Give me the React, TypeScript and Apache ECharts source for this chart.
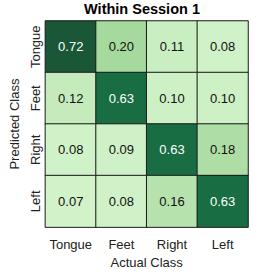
import React, { useEffect, useRef } from "react";
import * as echarts from "echarts";

const actualClasses = ["Tongue", "Feet", "Right", "Left"];
const predictedClasses = ["Tongue", "Feet", "Right", "Left"];
const matrix: number[][] = [
  [0.72, 0.2, 0.11, 0.08],
  [0.12, 0.63, 0.1, 0.1],
  [0.08, 0.09, 0.63, 0.18],
  [0.07, 0.08, 0.16, 0.63],
];
const titleText = "Within Session 1";
const colorStops = [
  "#dcf8d5", "#cdf0c5", "#a6d99d", "#80c47a", "#5aa864",
  "#3a8c52", "#197546", "#1a5a38", "#1a4a30",
];

export default function App() {
  const ref = useRef<HTMLDivElement>(null);
  useEffect(() => {
    if (!ref.current) return;
    const chart = echarts.init(ref.current, undefined, { renderer: "svg" });
    const data: any[] = [];
    matrix.forEach((row, r) => {
      row.forEach((v, c) => {
        data.push({
          value: [c, r, v],
          label: { color: v > 0.4 ? "#ffffff" : "#111111" },
        });
      });
    });
    const font = "'Liberation Sans', Arial, sans-serif";
    chart.setOption({
      animation: false,
      backgroundColor: "#ffffff",
      title: {
        text: titleText,
        left: 142,
        textAlign: "center",
        top: 1,
        padding: 0,
        textStyle: { fontFamily: font, fontSize: 14.5, fontWeight: "bold", color: "#000" },
      },
      grid: { left: 37, right: 26, top: 21, bottom: 36 },
      xAxis: {
        type: "category",
        data: actualClasses,
        name: "Actual Class",
        nameLocation: "middle",
        nameGap: 28,
        nameTextStyle: { fontFamily: font, fontSize: 13, color: "#222" },
        axisLine: { show: false },
        axisTick: { show: false },
        splitLine: { show: false },
        axisLabel: { interval: 0, fontFamily: font, fontSize: 13, color: "#222", margin: 11 },
      },
      yAxis: {
        type: "category",
        data: predictedClasses,
        inverse: true,
        name: "Predicted Class",
        nameLocation: "middle",
        nameGap: 29,
        nameTextStyle: { fontFamily: font, fontSize: 13, color: "#222", verticalAlign: "middle" },
        axisLine: { show: false },
        axisTick: { show: false },
        splitLine: { show: false },
        axisLabel: { interval: 0, fontFamily: font, fontSize: 13, color: "#222", rotate: 90, margin: 10, align: "center", verticalAlign: "middle" },
      },
      visualMap: {
        show: false,
        min: 0,
        max: 0.8,
        dimension: 2,
        inRange: { color: colorStops },
      },
      series: [
        {
          type: "heatmap",
          data,
          itemStyle: { borderColor: "#1a1a1a", borderWidth: 1 },
          label: {
            show: true,
            fontFamily: font,
            fontSize: 13,
            formatter: (p: any) => p.value[2].toFixed(2),
          },
          emphasis: { disabled: true },
        },
      ],
    });
    return () => chart.dispose();
  }, []);
  return (
    <div
      ref={ref}
      style={{ position: "fixed", left: 0, top: 0, width: 274, height: 274, background: "#fff" }}
    />
  );
}
